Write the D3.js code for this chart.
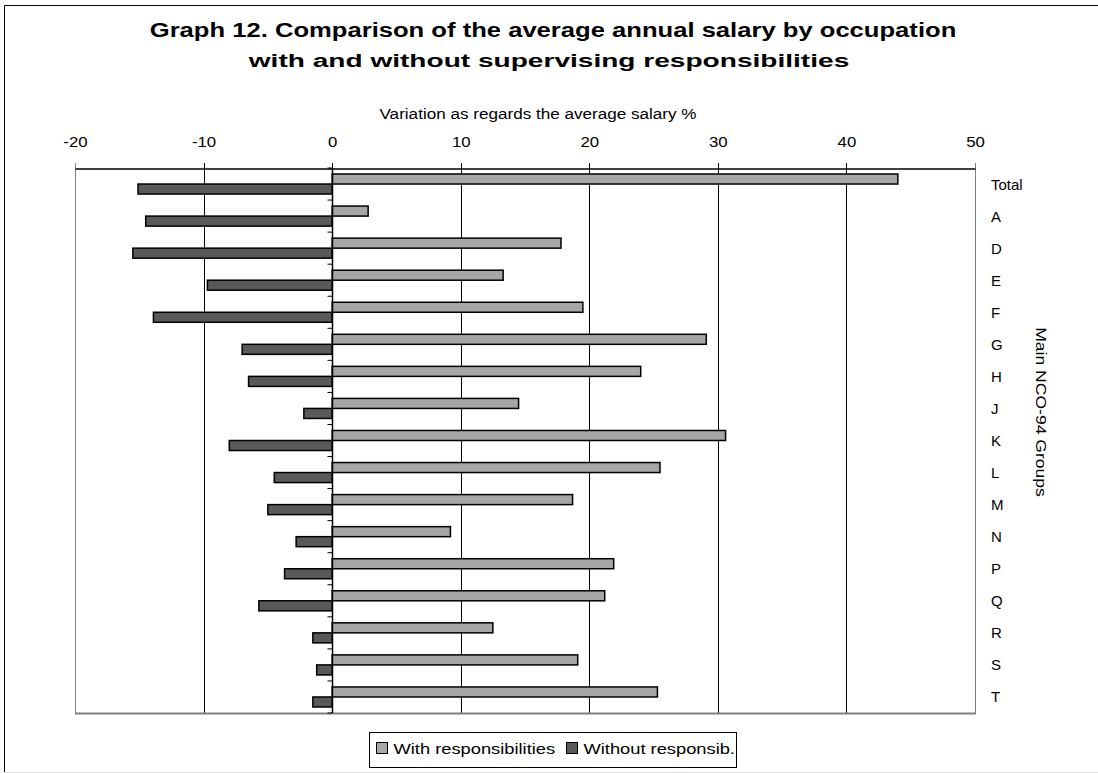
<!DOCTYPE html>
<html>
<head>
<meta charset="utf-8">
<script src="https://cdn.jsdelivr.net/npm/d3@7"></script>
<style>
  body { margin: 0; background: #fff; }
  svg { display: block; font-family: "Liberation Sans", Arial, sans-serif; }
</style>
</head>
<body>
<div id="chart"></div>
<script>
var categories = ["Total", "A", "D", "E", "F", "G", "H", "J", "K", "L", "M", "N", "P", "Q", "R", "S", "T"];
var withResp = [44.0, 2.8, 17.8, 13.3, 19.5, 29.1, 24.0, 14.5, 30.6, 25.5, 18.7, 9.2, 21.9, 21.2, 12.5, 19.1, 25.3];
var withoutResp = [-15.1, -14.5, -15.5, -9.7, -13.9, -7.0, -6.5, -2.2, -8.0, -4.5, -5.0, -2.8, -3.7, -5.7, -1.5, -1.2, -1.5];
var xTicks = [-20, -10, 0, 10, 20, 30, 40, 50];
var seriesNames = ["With responsibilities", "Without responsib."];
var seriesColors = ["#a6a6a6", "#595959"];

var W = 1098, H = 773;
var plot = {left: 75, right: 975, top: 168, bottom: 713};

var svg = d3.select("#chart").append("svg")
  .attr("width", W)
  .attr("height", H);

// outer frame (only top/left visible in the original crop)
svg.append("path")
  .attr("d", "M4.5,772 V5.5 H1098")
  .attr("fill", "none")
  .attr("stroke", "#000");
svg.append("line")
  .attr("x1", 4).attr("x2", W).attr("y1", 772.5).attr("y2", 772.5)
  .attr("stroke", "#e0e0e0");

// text helper: the original is stretched sideways, so scale x
function label(parent, x, y, str, size, sx, opts) {
  opts = opts || {};
  return parent.append("text")
    .attr("transform", "translate(" + x + "," + y + ")" + (opts.rotate ? " rotate(" + opts.rotate + ")" : "") + " scale(" + sx + ",1)")
    .attr("font-size", size)
    .attr("font-weight", opts.weight || "normal")
    .attr("text-anchor", opts.anchor || "middle")
    .attr("dominant-baseline", opts.baseline || "auto")
    .attr("fill", "#000")
    .text(str);
}

label(svg, 553, 37, "Graph 12. Comparison of the average annual salary by occupation", 20, 1.28, {weight: "bold"});
label(svg, 549, 67, "with and without supervising responsibilities", 18, 1.56, {weight: "bold"});
label(svg, 538, 119, "Variation as regards the average salary %", 15, 1.14);

var x = d3.scaleLinear().domain([-20, 50]).range([plot.left, plot.right]);
var y = d3.scaleBand().domain(categories).range([plot.top, plot.bottom]);
var ySub = d3.scaleBand().domain([0, 1]).range([0, y.bandwidth()]).paddingInner(0).paddingOuter(0.6);

// vertical gridlines
svg.append("g")
  .selectAll("line")
  .data(xTicks)
  .join("line")
  .attr("x1", d => Math.round(x(d)) + 0.5)
  .attr("x2", d => Math.round(x(d)) + 0.5)
  .attr("y1", plot.top - 5)
  .attr("y2", plot.bottom)
  .attr("stroke", (d, i) => (i === 0 || i === xTicks.length - 1) ? "#808080" : "#000");

// plot frame: bottom gray, top axis black
svg.append("line")
  .attr("x1", plot.left).attr("x2", plot.right + 1)
  .attr("y1", plot.bottom + 0.5).attr("y2", plot.bottom + 0.5)
  .attr("stroke", "#808080").attr("stroke-width", 2);

var xAxis = svg.append("g")
  .attr("transform", "translate(0," + (plot.top + 0.5) + ")")
  .call(d3.axisTop(x).tickValues(xTicks).tickSize(0).tickPadding(22).tickFormat(d => String(d)));
xAxis.select(".domain").attr("stroke", "#000").attr("stroke-width", 1.5);
xAxis.selectAll(".tick text")
  .attr("font-size", 15)
  .attr("font-family", "Liberation Sans, Arial, sans-serif")
  .attr("fill", "#000")
  .attr("transform", "scale(1.12,1)");

// bars
var rows = categories.map((c, i) => ({cat: c, vals: [withResp[i], withoutResp[i]]}));
var bars = svg.append("g").selectAll("g")
  .data(rows)
  .join("g")
  .attr("transform", d => "translate(0," + y(d.cat) + ")");

bars.selectAll("rect")
  .data(d => d.vals.map((v, k) => ({v: v, k: k})))
  .join("rect")
  .attr("x", d => x(Math.min(0, d.v)))
  .attr("width", d => Math.abs(x(d.v) - x(0)))
  .attr("y", d => ySub(d.k))
  .attr("height", ySub.bandwidth())
  .attr("fill", d => seriesColors[d.k])
  .attr("stroke", "#000")
  .attr("stroke-width", 1.5);

// category axis at zero, with ticks between categories
var x0 = Math.round(x(0)) + 0.5;
svg.append("line")
  .attr("x1", x0).attr("x2", x0)
  .attr("y1", plot.top).attr("y2", plot.bottom)
  .attr("stroke", "#000").attr("stroke-width", 1.5);
svg.append("g")
  .selectAll("line")
  .data(categories.concat(["end"]))
  .join("line")
  .attr("x1", x0 - 5).attr("x2", x0)
  .attr("y1", (d, i) => plot.top + i * y.step())
  .attr("y2", (d, i) => plot.top + i * y.step())
  .attr("stroke", "#000");

// category labels on the right
svg.append("g")
  .selectAll("text")
  .data(categories)
  .join("text")
  .attr("x", 991)
  .attr("y", d => y(d) + y.bandwidth() / 2)
  .attr("dominant-baseline", "central")
  .attr("font-size", 15)
  .attr("fill", "#000")
  .text(d => d);

label(svg, 1040, 412, "Main NCO-94 Groups", 15, 1.17, {rotate: 90, baseline: "middle"});

// legend
var leg = svg.append("g").attr("transform", "translate(369.5,732.5)");
leg.append("rect")
  .attr("width", 367).attr("height", 35)
  .attr("fill", "#fff").attr("stroke", "#000");
var legX = [7, 197];
seriesNames.forEach(function(name, k) {
  leg.append("rect")
    .attr("x", legX[k]).attr("y", 10)
    .attr("width", 11).attr("height", 11)
    .attr("fill", seriesColors[k])
    .attr("stroke", "#000");
  label(leg, legX[k] + 17, 21, name, 15, 1.22, {anchor: "start"});
});
</script>
</body>
</html>
